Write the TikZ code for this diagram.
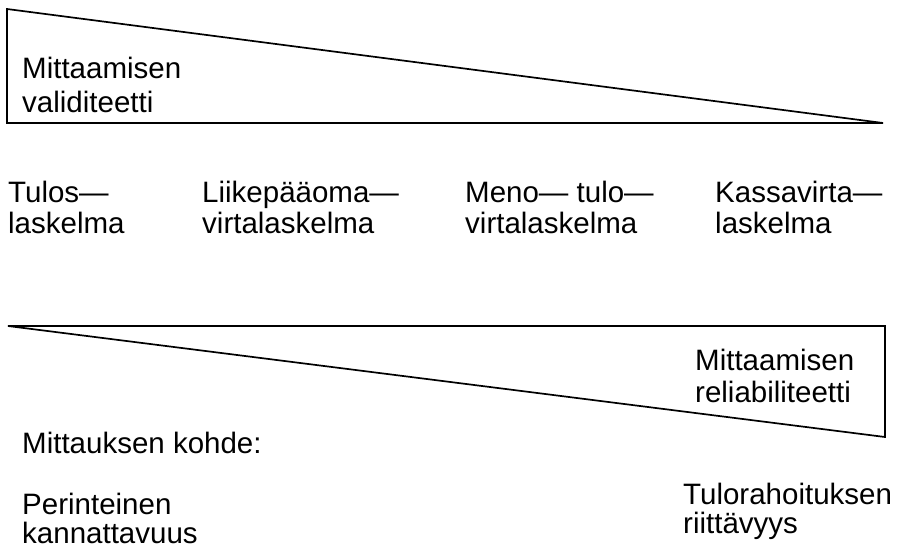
\documentclass[tikz,border=0pt]{standalone}
\usepackage{fontspec}
\setmainfont{Liberation Sans}
\newcommand\twoln[3]{\vtop{\baselineskip=#3\lineskiplimit=-20pt\hbox{#1}\hbox{#2}}}
\begin{document}
\begin{tikzpicture}[x=1pt,y=-1pt,
  lbl/.style={anchor=base west,inner sep=0pt,font=\fontsize{29.5}{32}\selectfont},
  edge/.style={line width=1.7pt,line join=miter}]
\useasboundingbox (0,0) rectangle (897,549);
% top triangle
\coordinate (t1) at (7,9);
\coordinate (t2) at (7,123);
\coordinate (t3) at (883,123);
\draw[edge] (t1) -- (t2) -- (t3) -- cycle;
% bottom triangle
\coordinate (b1) at (8,326);
\coordinate (b2) at (885,326);
\coordinate (b3) at (885,437);
\draw[edge] (b1) -- (b2) -- (b3) -- cycle;
% labels
\node[lbl] (v) at (22,78) {\twoln{Mittaamisen}{validiteetti}{34pt}};
\node[lbl] (a) at (8,202) {\twoln{Tulos—}{laskelma}{31pt}};
\node[lbl] (c) at (202,202) {\twoln{Liikepääoma—}{virtalaskelma}{31pt}};
\node[lbl] (d) at (465,202) {\twoln{Meno— tulo—}{virtalaskelma}{31pt}};
\node[lbl] (e) at (715,202) {\twoln{Kassavirta—}{laskelma}{31pt}};
\node[lbl] (r) at (695,370) {\twoln{Mittaamisen}{reliabiliteetti}{32pt}};
\node[lbl] (m) at (22,453) {Mittauksen kohde:};
\node[lbl] (p) at (22,514) {\twoln{Perinteinen}{kannattavuus}{29pt}};
\node[lbl] (q) at (683,504) {\twoln{Tulorahoituksen}{riittävyys}{29pt}};
\end{tikzpicture}
\end{document}
